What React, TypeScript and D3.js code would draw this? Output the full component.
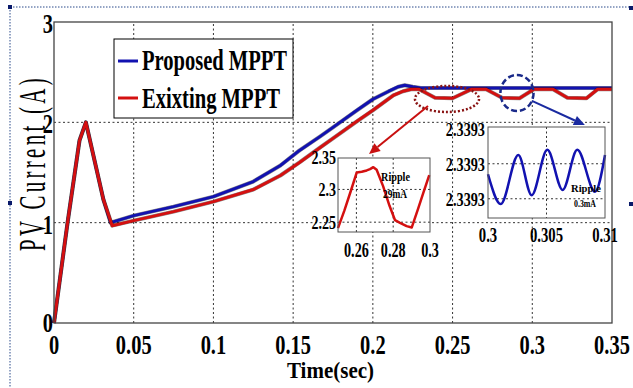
import React from "react";
import * as d3 from "d3";

// ---------- data ----------
const blueT = [0, 0.0085, 0.016, 0.02, 0.031, 0.0355, 0.05, 0.075, 0.1, 0.125, 0.142, 0.154, 0.167, 0.175, 0.19, 0.2, 0.21, 0.216, 0.22, 0.225, 0.23, 0.35];
const blueV = [0, 1.0, 1.82, 2.0, 1.23, 1.0, 1.07, 1.16, 1.26, 1.41, 1.57, 1.72, 1.86, 1.95, 2.12, 2.23, 2.31, 2.355, 2.37, 2.355, 2.342, 2.342];

const redT = [0, 0.0085, 0.016, 0.02, 0.031, 0.0365, 0.05, 0.075, 0.1, 0.125, 0.142, 0.154, 0.167, 0.175, 0.19, 0.2, 0.213, 0.219, 0.224, 0.229, 0.239, 0.25, 0.262, 0.271, 0.281, 0.292, 0.301, 0.313, 0.322, 0.334, 0.341, 0.35];
const redV = [0, 1.0, 1.82, 2.0, 1.23, 0.97, 1.02, 1.11, 1.21, 1.33, 1.47, 1.6, 1.75, 1.84, 2.01, 2.12, 2.27, 2.31, 2.33, 2.33, 2.245, 2.24, 2.33, 2.33, 2.245, 2.24, 2.33, 2.33, 2.245, 2.24, 2.33, 2.33];

const xTicks = [0, 0.05, 0.1, 0.15, 0.2, 0.25, 0.3, 0.35];
const yTicks = [0, 1, 2, 3];

const inset1T = [0.25, 0.2535, 0.257, 0.2602, 0.2629, 0.2656, 0.2674, 0.2692, 0.271, 0.2745, 0.278, 0.281, 0.2837, 0.2873, 0.2901, 0.2936, 0.2965, 0.2996];
const inset1V = [2.241, 2.268, 2.298, 2.326, 2.327, 2.329, 2.331, 2.334, 2.33, 2.305, 2.275, 2.253, 2.249, 2.244, 2.242, 2.271, 2.296, 2.322];
const inset1XTicks = [0.26, 0.28, 0.3];
const inset1YTicks = [2.25, 2.3, 2.35];

const inset2T = [0.3, 0.30109, 0.30259, 0.30373, 0.30507, 0.30638, 0.30763, 0.30915, 0.31];
const inset2V = [2.339314, 2.339297, 2.339325, 2.339302, 2.339328, 2.339305, 2.339328, 2.339304, 2.339325];
const inset2XTicks = [0.3, 0.305, 0.31];
const inset2YTicks = [2.33934, 2.33932, 2.3393];

const legendLabels = ["Proposed MPPT", "Exixting MPPT"];

// annotations in data units
const ellipseC = { t: 0.2465, v: 2.233, rt: 0.0201, rv: 0.13 };
const circleC = { t: 0.2904, v: 2.292, rt: 0.0104, rv: 0.18 };
const redArrow = { t0: 0.2346, v0: 2.163, t1: 0.1976, v1: 1.684 };
const blueArrow = { t0: 0.2998, v0: 2.213, t1: 0.333, v1: 1.973 };

// ---------- styles ----------
const BLUE = "#1212b0";
const RED = "#d41010";
const FONT = "'Liberation Serif', 'Times New Roman', serif";

function Arrow({ x0, y0, x1, y1, color }: any) {
  const a = Math.atan2(y1 - y0, x1 - x0);
  const L = 11, Wd = 5;
  const bx = x1 - L * Math.cos(a), by = y1 - L * Math.sin(a);
  const p1 = [bx + Wd * Math.sin(a), by - Wd * Math.cos(a)];
  const p2 = [bx - Wd * Math.sin(a), by + Wd * Math.cos(a)];
  return (
    <g>
      <line x1={x0} y1={y0} x2={bx} y2={by} stroke={color} strokeWidth={2} />
      <polygon points={`${x1},${y1} ${p1[0]},${p1[1]} ${p2[0]},${p2[1]}`} fill={color} />
    </g>
  );
}

function SText({ x, y, sx, size, anchor, children, weight = "bold" }: any) {
  return (
    <text transform={`translate(${x},${y}) scale(${sx},1)`} fontSize={size} fontFamily={FONT} fontWeight={weight} textAnchor={anchor} fill="#000">
      {children}
    </text>
  );
}

export default function App() {
  const W = 633, H = 388;
  const x = d3.scaleLinear().domain([0, 0.35]).range([54, 612]);
  const y = d3.scaleLinear().domain([0, 3]).range([323, 22]);

  const blue = blueT.map((t, i) => [t, blueV[i]] as [number, number]);
  const red = redT.map((t, i) => [t, redV[i]] as [number, number]);
  const line = d3.line<[number, number]>().x((d) => x(d[0])).y((d) => y(d[1]));

  // inset 1
  const x1 = d3.scaleLinear().domain([0.25, 0.3]).range([338, 430]);
  const y1 = d3.scaleLinear().domain([2.235, 2.348]).range([232, 158]);
  const in1 = inset1T.map((t, i) => [t, inset1V[i]] as [number, number]);
  const line1 = d3.line<[number, number]>().x((d) => x1(d[0])).y((d) => y1(d[1]));

  // inset 2
  const x2 = d3.scaleLinear().domain([0.3, 0.31]).range([488, 605]);
  const y2 = d3.scaleLinear().domain([2.339289, 2.339341]).range([218, 127]);
  const in2 = inset2T.map((t, i) => [t, inset2V[i]] as [number, number]);
  const line2 = d3.line<[number, number]>().x((d) => x2(d[0])).y((d) => y2(d[1])).curve(d3.curveMonotoneX);

  const grid = { stroke: "#333", strokeWidth: 1, strokeDasharray: "2,2.5" };

  return (
    <svg width={W} height={H} style={{ position: "absolute", left: 0, top: 0, background: "#fff" }}>
      <rect width={W} height={H} fill="#fff" />
      {/* outer dotted frame */}
      <line x1={10} y1={7} x2={632} y2={7} stroke="#2a4a8a" strokeWidth={1} strokeDasharray="1.5,1.5" />
      <line x1={10} y1={7} x2={10} y2={388} stroke="#2a4a8a" strokeWidth={1} strokeDasharray="1.5,1.5" />
      <rect x={8} y={5} width={4} height={4} fill="#0a1a6a" />
      <rect x={8} y={201} width={4} height={4} fill="#0a1a6a" />
      <rect x={629} y={6} width={4} height={4} fill="#0a1a6a" />
      <rect x={629} y={202} width={4} height={4} fill="#0a1a6a" />

      {/* main grid */}
      {xTicks.slice(1, -1).map((t) => (
        <line key={"gx" + t} x1={x(t)} x2={x(t)} y1={y(0)} y2={y(3)} {...grid} />
      ))}
      {yTicks.slice(1, -1).map((v) => (
        <line key={"gy" + v} x1={x(0)} x2={x(0.35)} y1={y(v)} y2={y(v)} {...grid} />
      ))}

      {/* main lines */}
      <path d={line(blue) || ""} fill="none" stroke="#000" strokeOpacity={0.45} strokeWidth={4} strokeLinejoin="round" />
      <path d={line(blue) || ""} fill="none" stroke={BLUE} strokeWidth={3} strokeLinejoin="round" />
      <path d={line(red) || ""} fill="none" stroke="#000" strokeOpacity={0.45} strokeWidth={4} strokeLinejoin="round" />
      <path d={line(red) || ""} fill="none" stroke={RED} strokeWidth={3} strokeLinejoin="round" />

      {/* frame */}
      <rect x={x(0)} y={y(3)} width={x(0.35) - x(0)} height={y(0) - y(3)} fill="none" stroke="#444" strokeWidth={1.3} />

      {/* tick labels */}
      {xTicks.map((t) => (
        <SText key={"xl" + t} x={x(t)} y={354} sx={0.73} size={28} anchor="middle">{String(t)}</SText>
      ))}
      {yTicks.map((v) => (
        <SText key={"yl" + v} x={53} y={y(v) + (v === 0 ? 9 : 11)} sx={0.73} size={28} anchor="end">{String(v)}</SText>
      ))}

      {/* axis titles */}
      <text x={287} y={378} fontSize={24} fontFamily={FONT} fontWeight="bold" textLength={87} lengthAdjust="spacingAndGlyphs">Time(sec)</text>
      <text transform="translate(45,163) rotate(-90) scale(0.55,1)" fontSize={38} fontFamily={FONT} letterSpacing={6} textAnchor="middle">PV Current (A)</text>

      {/* legend */}
      <rect x={114} y={39} width={179} height={79} fill="#fff" stroke="#000" strokeWidth={1} />
      <line x1={118} x2={138} y1={61} y2={61} stroke={BLUE} strokeWidth={3} />
      <line x1={118} x2={138} y1={98} y2={98} stroke={RED} strokeWidth={3} />
      <text x={142} y={70} fontSize={30} fontFamily={FONT} fontWeight="bold" textLength={145} lengthAdjust="spacingAndGlyphs">{legendLabels[0]}</text>
      <text x={142} y={108} fontSize={30} fontFamily={FONT} fontWeight="bold" textLength={138} lengthAdjust="spacingAndGlyphs">{legendLabels[1]}</text>

      {/* annotations */}
      <ellipse cx={x(ellipseC.t)} cy={y(ellipseC.v)} rx={x(ellipseC.t + ellipseC.rt) - x(ellipseC.t)} ry={y(ellipseC.v) - y(ellipseC.v + ellipseC.rv)} fill="none" stroke="#8a1414" strokeWidth={2.5} strokeDasharray="2,2" />
      <ellipse cx={x(circleC.t)} cy={y(circleC.v)} rx={x(circleC.t + circleC.rt) - x(circleC.t)} ry={y(circleC.v) - y(circleC.v + circleC.rv)} fill="none" stroke="#1a2a8a" strokeWidth={2.5} strokeDasharray="6,3" />
      <Arrow x0={x(redArrow.t0)} y0={y(redArrow.v0)} x1={x(redArrow.t1)} y1={y(redArrow.v1)} color="#c81010" />
      <Arrow x0={x(blueArrow.t0)} y0={y(blueArrow.v0)} x1={x(blueArrow.t1)} y1={y(blueArrow.v1)} color="#1a2aa0" />

      {/* inset 1 */}
      <rect x={338} y={158} width={92} height={74} fill="#fff" />
      {inset1XTicks.slice(0, -1).map((t) => (
        <line key={"i1gx" + t} x1={x1(t)} x2={x1(t)} y1={158} y2={232} {...grid} />
      ))}
      {inset1YTicks.slice(0, -1).map((v) => (
        <line key={"i1gy" + v} x1={338} x2={430} y1={y1(v)} y2={y1(v)} {...grid} />
      ))}
      <path d={line1(in1) || ""} fill="none" stroke={RED} strokeWidth={2.5} strokeLinejoin="round" />
      <rect x={338} y={158} width={92} height={74} fill="none" stroke="#555" strokeWidth={1} />
      {inset1XTicks.map((t) => (
        <SText key={"i1xl" + t} x={x1(t)} y={257} sx={0.71} size={20} anchor="middle">{String(t)}</SText>
      ))}
      {inset1YTicks.map((v) => (
        <SText key={"i1yl" + v} x={336} y={y1(v) + 7} sx={0.74} size={19} anchor="end">{String(v)}</SText>
      ))}
      <text x={381} y={181} fontSize={12} fontFamily={FONT} fontWeight="bold" textLength={29} lengthAdjust="spacingAndGlyphs">Ripple</text>
      <text x={383} y={198} fontSize={12} fontFamily={FONT} fontWeight="bold" textLength={24} lengthAdjust="spacingAndGlyphs">29mA</text>

      {/* inset 2 */}
      <rect x={488} y={127} width={117} height={91} fill="#fff" />
      {inset2XTicks.slice(1, -1).map((t) => (
        <line key={"i2gx" + t} x1={x2(t)} x2={x2(t)} y1={127} y2={218} {...grid} />
      ))}
      {inset2YTicks.slice(1).map((v) => (
        <line key={"i2gy" + v} x1={488} x2={605} y1={y2(v)} y2={y2(v)} {...grid} />
      ))}
      <path d={line2(in2) || ""} fill="none" stroke={BLUE} strokeWidth={2.5} />
      <rect x={488} y={127} width={117} height={91} fill="none" stroke="#555" strokeWidth={1} />
      {inset2XTicks.map((t) => (
        <SText key={"i2xl" + t} x={x2(t)} y={242} sx={0.7} size={21} anchor="middle">{String(t)}</SText>
      ))}
      {inset2YTicks.map((v) => (
        <SText key={"i2yl" + v} x={485} y={y2(v) + 7} sx={0.75} size={19} anchor="end">{d3.format(".4f")(v)}</SText>
      ))}
      <text x={571} y={192} fontSize={11} fontFamily={FONT} fontWeight="bold" textLength={30} lengthAdjust="spacingAndGlyphs">Ripple</text>
      <text x={574} y={207} fontSize={11} fontFamily={FONT} fontWeight="bold" textLength={22} lengthAdjust="spacingAndGlyphs">0.3mA</text>
    </svg>
  );
}
